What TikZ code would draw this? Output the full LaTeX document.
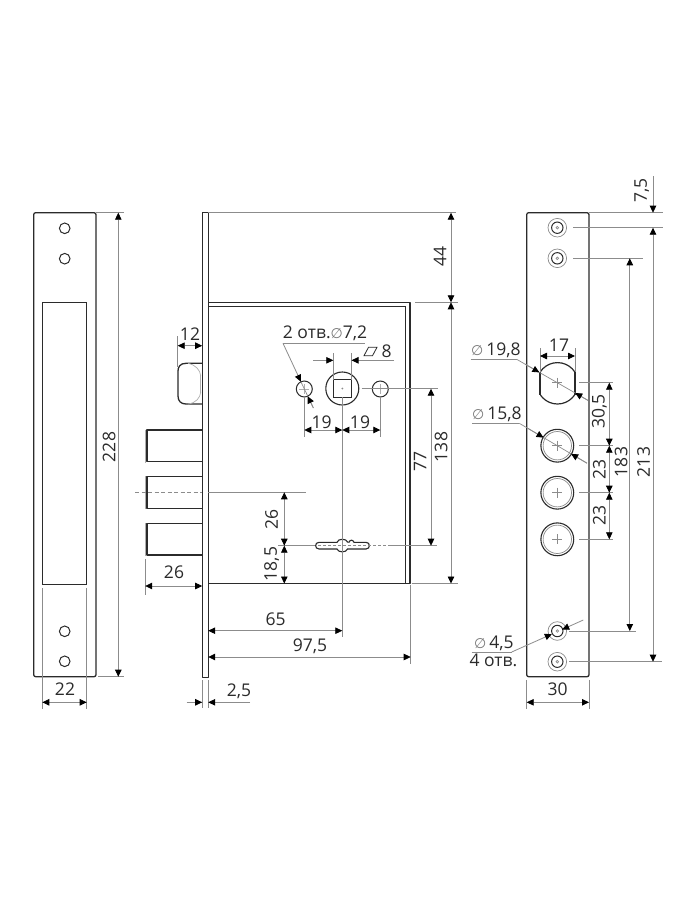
\documentclass[tikz,border=0pt]{standalone}
\usepackage{fontspec}
\setmainfont{Open Sans}
\newfontfamily\symfont{DejaVu Sans}
\usetikzlibrary{arrows.meta}
\newcommand{\dia}{\textcolor{diagray}{\symfont\fontsize{14}{16}\selectfont ∅}}
\definecolor{diagray}{HTML}{777777}
\definecolor{ink}{HTML}{2B2B2B}
\definecolor{dimgray}{HTML}{8C8C8C}
\tikzset{
  x=1pt,y=-1pt,
  outline/.style={draw=ink,line width=1.3pt,line join=round},
  thinink/.style={draw=ink,line width=0.8pt},
  ghost/.style={draw=dimgray!70,line width=0.7pt},
  dimline/.style={draw=dimgray,line width=0.8pt},
  ext/.style={draw=dimgray,line width=0.7pt},
  dimboth/.style={dimline,{Triangle[length=7pt,width=6.5pt,color=black]}-{Triangle[length=7pt,width=6.5pt,color=black]}},
  dimend/.style={dimline,-{Triangle[length=7pt,width=6.5pt,color=black]}},
  lbl/.style={inner sep=0pt,text=ink,font=\fontsize{17.5}{19}\selectfont},
  lblv/.style={lbl,rotate=90},
  lblw/.style={inner sep=0pt,text=ink,font=\fontsize{17.5}{19}\selectfont,anchor=base west},
}
\begin{document}
\begin{tikzpicture}
\path[use as bounding box,fill=white] (0,0) rectangle (695,900);

% ===== left strike plate =====
\draw[outline,rounded corners=2pt] (33.7,212.7) rectangle (96,676.7);
\draw[thinink,line width=1pt] (42.3,302.7) rectangle (86.7,584);
\foreach \yy in {228.3,258.7,631.3,661.3}
  \draw[thinink,line width=1pt] (64.7,\yy) circle[radius=5.3pt];
\draw[ext] (96,212.7) -- (124,212.7);
\draw[ext] (98,676.7) -- (124,676.7);
\draw[dimboth] (118.3,212.7) -- (118.3,676.7);
\node[lblv] (d228) at (109,447) {228};
\draw[ext] (42.3,588) -- (42.3,709);
\draw[ext] (86.7,588) -- (86.7,709);
\draw[dimboth] (42.3,702.3) -- (86.7,702.3);
\node[lbl] (d22) at (65,689) {22};

% ===== side view: plate and case =====
\draw[outline] (202.2,212.7) rectangle (208.2,677.3);
\draw[outline] (208.2,302.3) -- (410,302.3) -- (410,583.5) -- (208.2,583.5);
\draw[thinink,line width=1pt] (208.2,306.7) -- (405,306.7) -- (405,583.5);

% latch
\draw[outline] (202.2,363.3) -- (186,363.3) .. controls (180,363.3) and (178,367) .. (178,371)
  -- (178,396) .. controls (178,401) and (181,404) .. (186,404) -- (202.2,404);
\draw[ghost] (188,363.3) .. controls (196,365) and (200,370) .. (200.8,376);
\draw[ghost] (200.8,392) .. controls (200,398) and (196,403) .. (188,404);
\draw[ghost,line width=1.5pt] (200.6,375) -- (200.6,393);

% bolts
\foreach \ya/\yb in {430/461.7,476.7/508.3,523.3/555}{
  \draw[outline] (202.2,\ya) -- (147,\ya) -- (147,\yb) -- (202.2,\yb);
  \draw[ghost,line width=1.1pt] (145.2,\ya-0.5) -- (145.2,\yb+1);
}

% spindle and holes
\draw[thinink,line width=1.1pt] (342.3,388.5) circle[radius=16.5pt];
\draw[thinink,line width=1.1pt] (333.3,379.5) rectangle (351.5,397.5);
\fill[dimgray] (342.3,388.5) circle[radius=1pt];
\draw[thinink,line width=1pt] (304.3,389) circle[radius=8pt];
\draw[thinink,line width=1pt] (380.3,389) circle[radius=8pt];
\draw[ghost] (299.3,389) -- (309.3,389) (304.3,384) -- (304.3,394);
\draw[ghost] (380.3,384) -- (380.3,394);

% keyhole
\draw[thinink,line width=1.1pt] (319,542.3) -- (337,542.3) .. controls (338,538.3) and (346.5,538.3) .. (347.5,542)
  -- (349,542.2) .. controls (350,539.5) and (353,539.5) .. (354,542.3) -- (366,542.3)
  .. controls (370.5,542.3) and (370.5,549) .. (366,549) -- (347.5,549)
  .. controls (346.5,552.8) and (338,552.8) .. (337,549) -- (319,549)
  .. controls (314.5,549) and (314.5,542.3) .. (319,542.3) -- cycle;
\draw[ext,dashed,dash pattern=on 3pt off 2pt] (318,545.7) -- (389,545.7);
\draw[ext] (389,545.7) -- (436.7,545.7);
\draw[ext] (278,545.7) -- (315,545.7);
\draw[ext] (342.3,397) -- (342.3,636.7);

% centre line of the bolts
\draw[ext,dashed,dash pattern=on 4pt off 2.5pt] (135,492.3) -- (202,492.3);
\draw[ext] (208.2,492.3) -- (305.7,492.3);

% latch dim 12
\draw[ext] (177.7,336) -- (177.7,367);
\draw[dimboth] (177.7,345.7) -- (202.2,345.7);
\node[lbl] (d12) at (190,334) {12};

% dims 26, 18,5
\draw[dimboth] (284.3,492.3) -- (284.3,545.7);
\draw[dimboth] (284.3,545.7) -- (284.3,583.5);
\node[lblv] (d26v) at (271.7,519) {26};
\node[lblv] (d185) at (271.7,564) {18,5};
\draw[ext] (145.2,559) -- (145.2,595);
\draw[dimboth] (145.2,586) -- (202.2,586);
\node[lbl] (d26h) at (174,572) {26};

% label 2 otv
\node[lblw] (l2) at (282.7,338) {2 отв.\dia7,2};
\draw[ext] (282.7,343.3) -- (365,343.3);
\draw[dimend] (283,343.3) -- (300.9,381.7);
\draw[ext,dimgray] (300.9,381.7) -- (313.4,408);
\draw[dimend] (313.4,408) -- (307.7,396.3);

% square 8
\draw[ext] (333.3,353) -- (333.3,379.5);
\draw[ext] (351.5,353) -- (351.5,379.5);
\draw[dimend] (313.3,360.3) -- (333.3,360.3);
\draw[dimend] (394,360.3) -- (351.5,360.3);
\draw[thinink] (364,355.7) -- (368.5,347.3) -- (377,347.3) -- (372.5,355.7) -- cycle;
\node[lbl] (d8) at (386.7,351) {8};

% dims 19
\draw[ext] (304.3,397) -- (304.3,437);
\draw[ext] (380.3,397) -- (380.3,437);
\draw[dimboth] (304.3,430) -- (342.3,430);
\draw[dimboth] (342.3,430) -- (380.3,430);
\node[lbl] (d19a) at (321.7,422) {19};
\node[lbl] (d19b) at (360,422) {19};

% dims 77, 138, 44
\draw[ext] (361.7,388.7) -- (438.3,388.7);
\draw[dimboth] (431,388.7) -- (431,545.7);
\node[lblv] (d77) at (420,461) {77};
\draw[ext] (208.2,212.7) -- (455.7,212.7);
\draw[ext] (415,302.3) -- (457.7,302.3);
\draw[ext] (411.7,583.5) -- (457.7,583.5);
\draw[dimboth] (451,212.7) -- (451,302.3);
\draw[dimboth] (451,302.3) -- (451,583.5);
\node[lblv] (d44) at (440,256.7) {44};
\node[lblv] (d138) at (441,447) {138};

% dims 65, 97,5, 2,5
\draw[ext] (410.7,585) -- (410.7,664);
\draw[dimboth] (208.2,630.7) -- (342.3,630.7);
\draw[dimboth] (208.2,657) -- (410.7,657);
\node[lbl] (d65) at (275.7,619.3) {65};
\node[lbl] (d975) at (310,646) {97,5};
\draw[ext] (202.2,680) -- (202.2,708);
\draw[ext] (208.2,680) -- (208.2,708);
\draw[dimend] (186.7,702.3) -- (202.2,702.3);
\draw[dimend] (250,702.3) -- (208.2,702.3);
\node[lbl] (d25) at (239,691) {2,5};

% ===== right face plate =====
\draw[outline,rounded corners=2pt] (526.7,212.7) rectangle (589,676.7);
\foreach \yy in {227.7,258.3,631,661.7}{
  \draw[ghost,draw=dimgray] (557.3,\yy) circle[radius=9.3pt];
  \draw[thinink,line width=1pt] (557.3,\yy) circle[radius=5.7pt];
  \draw[ghost,draw=dimgray] (557.3,\yy) circle[radius=1.3pt];
}
% cylinder cut-out
\begin{scope}
  \clip (540,355) rectangle (575,410);
  \draw[outline,line width=1.2pt] (557.5,383.3) circle[radius=20.7pt];
\end{scope}
\draw[outline,line width=1.2pt] (540,372) -- (540,394.5);
\draw[outline,line width=1.2pt] (575,372) -- (575,394.5);
\draw[ghost,draw=dimgray] (552.3,382.7) -- (562.3,382.7) (557.3,377.7) -- (557.3,387.7);
\foreach \yy in {445.7,492.7,539.3}{
  \draw[thinink,line width=1.1pt] (557.3,\yy) circle[radius=16.4pt];
  \draw[ghost,draw=dimgray] (557.3,\yy) circle[radius=14.2pt];
  \draw[ghost,draw=dimgray] (552.3,\yy) -- (562.3,\yy) (557.3,\yy-5) -- (557.3,\yy+5);
}

% right side extension lines
\draw[ext] (589,212.7) -- (662.7,212.7);
\draw[ext] (573,227.7) -- (662.7,227.7);
\draw[ext] (573,258.3) -- (643,258.3);
\draw[ext] (569.3,631) -- (635.7,631);
\draw[ext] (569.3,661.7) -- (661.7,661.7);
\draw[ext] (579.3,382.7) -- (613.3,382.7);
\draw[ext] (579.3,445.7) -- (613.3,445.7);
\draw[ext] (579.3,492.7) -- (613.3,492.7);
\draw[ext] (579.3,539.3) -- (613.3,539.3);

\draw[dimend] (653,176) -- (653,212.7);
\draw[dimboth] (653,227.7) -- (653,661.7);
\draw[dimboth] (629.8,258.3) -- (629.8,631);
\draw[dimboth] (609.3,382.7) -- (609.3,445.7);
\draw[dimboth] (609.3,445.7) -- (609.3,492.7);
\draw[dimboth] (609.3,492.7) -- (609.3,539.3);
\node[lblv] (d75) at (641.7,190.7) {7,5};
\node[lblv] (d213) at (643.5,462) {213};
\node[lblv] (d183) at (621,462) {183};
\node[lblv] (d305) at (599.3,411.7) {30,5};
\node[lblv] (d23a) at (599.3,469.5) {23};
\node[lblv] (d23b) at (599.3,515.7) {23};

% dim 17
\draw[ext] (540,348) -- (540,372);
\draw[ext] (575,348) -- (575,372);
\draw[dimboth] (540,356) -- (575,356);
\node[lbl] (d17) at (559,345.7) {17};

% dia 19,8
\node[lblw] (t198) at (471,355) {\dia\,19,8};
\draw[ext] (470.7,359.3) -- (516.7,359.3);
\draw[ext] (516.7,359.3) -- (588,400.4);
\draw[dimend] (525,364.1) -- (539.4,372.4);
\draw[dimend] (588,400.4) -- (575.2,393);

% dia 15,8
\node[lblw] (t158) at (472,419) {\dia\,15,8};
\draw[ext] (472.3,423.3) -- (519.3,423.3);
\draw[ext] (519.3,423.3) -- (587,463.2);
\draw[dimend] (528,428.4) -- (543.5,437.6);
\draw[dimend] (587,463.2) -- (571.1,453.8);

% dia 4,5
\node[lblw] (t45) at (474,648) {\dia\,4,5};
\node[lblw] (t4o) at (469.3,666) {4 отв.};
\draw[ext] (471.7,652) -- (511.7,652);
\draw[dimend] (511.7,652) -- (551.8,634.1);
\draw[dimend] (583.3,620) -- (562.2,629.5);

% dim 30
\draw[ext] (526.7,680) -- (526.7,709);
\draw[ext] (589,680) -- (589,709);
\draw[dimboth] (526.7,702.3) -- (589,702.3);
\node[lbl] (d30) at (557.7,689.3) {30};
\end{tikzpicture}
\end{document}
